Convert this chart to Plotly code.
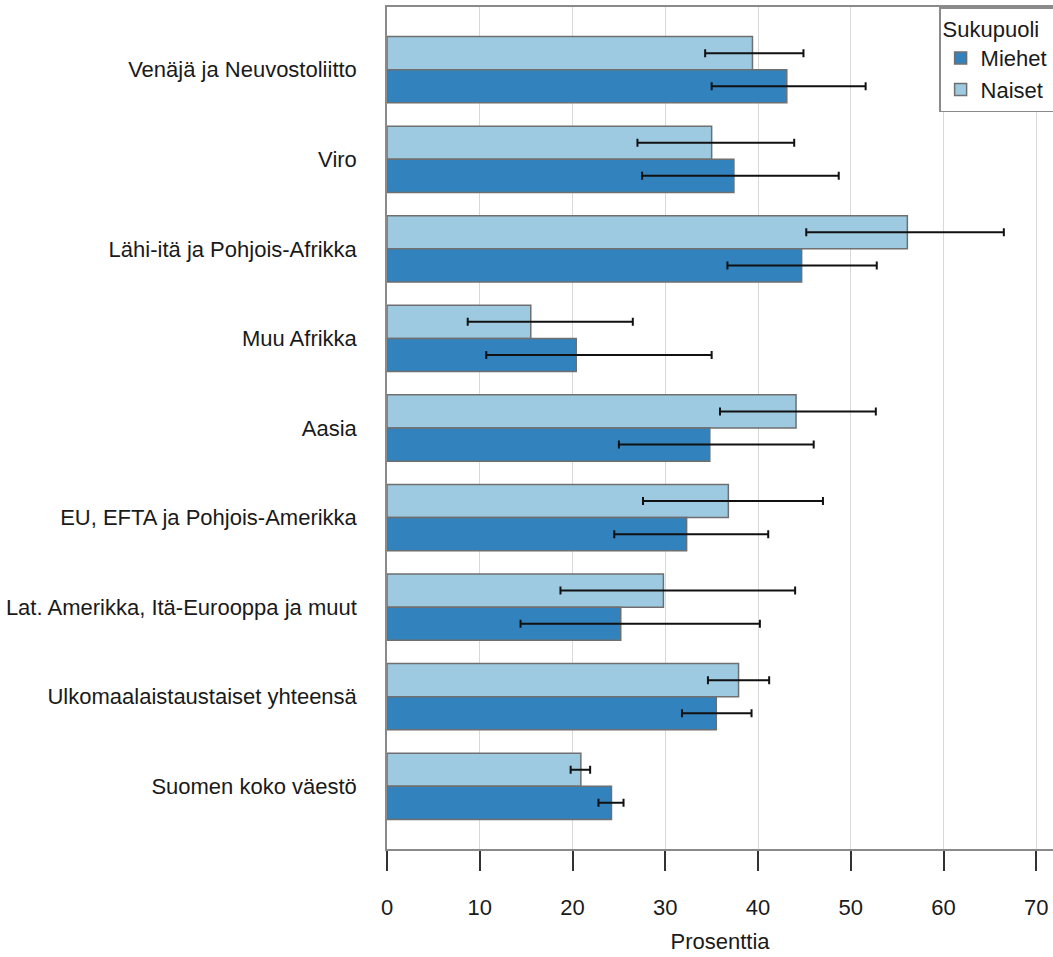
import plotly.graph_objects as go

categories = [
    "Venäjä ja Neuvostoliitto",
    "Viro",
    "Lähi-itä ja Pohjois-Afrikka",
    "Muu Afrikka",
    "Aasia",
    "EU, EFTA ja Pohjois-Amerikka",
    "Lat. Amerikka, Itä-Eurooppa ja muut",
    "Ulkomaalaistaustaiset yhteensä",
    "Suomen koko väestö",
]

naiset = [39.4, 35.0, 56.1, 15.5, 44.1, 36.8, 29.8, 37.9, 20.9]
naiset_lo = [34.3, 27.0, 45.2, 8.7, 35.9, 27.6, 18.7, 34.6, 19.8]
naiset_hi = [44.9, 43.9, 66.5, 26.5, 52.7, 47.0, 44.0, 41.2, 21.9]

miehet = [43.1, 37.4, 44.7, 20.4, 34.8, 32.3, 25.2, 35.5, 24.2]
miehet_lo = [35.0, 27.5, 36.7, 10.7, 25.0, 24.5, 14.4, 31.8, 22.8]
miehet_hi = [51.6, 48.7, 52.8, 35.0, 46.0, 41.1, 40.2, 39.3, 25.5]

x_ticks = [0, 10, 20, 30, 40, 50, 60, 70]

FONT = "Liberation Sans, Arial, sans-serif"
FS = 22
TXT = "#1a1a1a"


def err(vals, lo, hi):
    return dict(
        type="data",
        symmetric=False,
        array=[h - v for v, h in zip(vals, hi)],
        arrayminus=[v - l for v, l in zip(vals, lo)],
        color="#111111",
        thickness=2,
        width=4,
    )


fig = go.Figure()
fig.add_trace(go.Bar(
    name="Naiset", y=categories, x=naiset, orientation="h",
    marker=dict(color="#9ecae1", line=dict(color="#6f6f6f", width=1.5)),
    error_x=err(naiset, naiset_lo, naiset_hi),
))
fig.add_trace(go.Bar(
    name="Miehet", y=categories, x=miehet, orientation="h",
    marker=dict(color="#3182bd", line=dict(color="#6f6f6f", width=1.5)),
    error_x=err(miehet, miehet_lo, miehet_hi),
))

fig.update_layout(
    width=1053, height=957,
    margin=dict(l=387, r=0, t=7, b=108, pad=0, autoexpand=False),
    paper_bgcolor="white", plot_bgcolor="white",
    barmode="group", bargap=0.26, bargroupgap=0,
    font=dict(family=FONT, size=FS, color=TXT),
    showlegend=True,
    legend=dict(
        x=0.829, y=1, xanchor="left", yanchor="top",
        bgcolor="white", bordercolor="#8a8a8a", borderwidth=1.5,
        traceorder="reversed",
        title=dict(text="Sukupuoli", side="top",
                   font=dict(size=FS, family=FONT, color=TXT)),
        font=dict(size=FS, family=FONT, color=TXT),
    ),
    xaxis=dict(
        range=[0, 71.8], tickvals=x_ticks, ticktext=[str(t) for t in x_ticks],
        showgrid=True, gridcolor="#d9d9d9", gridwidth=1,
        showline=True, linecolor="#8a8a8a", linewidth=1.5, mirror=True,
        ticks="outside", ticklen=20, tickwidth=1.5, tickcolor="#333333",
        ticklabelstandoff=18,
        zeroline=False, automargin=False,
        title=dict(text="Prosenttia", standoff=14, font=dict(size=FS, family=FONT, color=TXT)),
        tickfont=dict(size=FS, family=FONT, color=TXT),
    ),
    yaxis=dict(
        type="category", categoryorder="array", categoryarray=categories,
        range=[8.7, -0.7],
        showgrid=False, automargin=False,
        showline=True, linecolor="#8a8a8a", linewidth=1.5, mirror=False,
        ticks="", ticklabelstandoff=24,
        tickfont=dict(size=FS, family=FONT, color=TXT),
    ),
)

fig.write_html(
    "out.html",
    config={"displayModeBar": False},
    post_script="document.body.style.margin='0';document.body.style.overflow='hidden';",
)
